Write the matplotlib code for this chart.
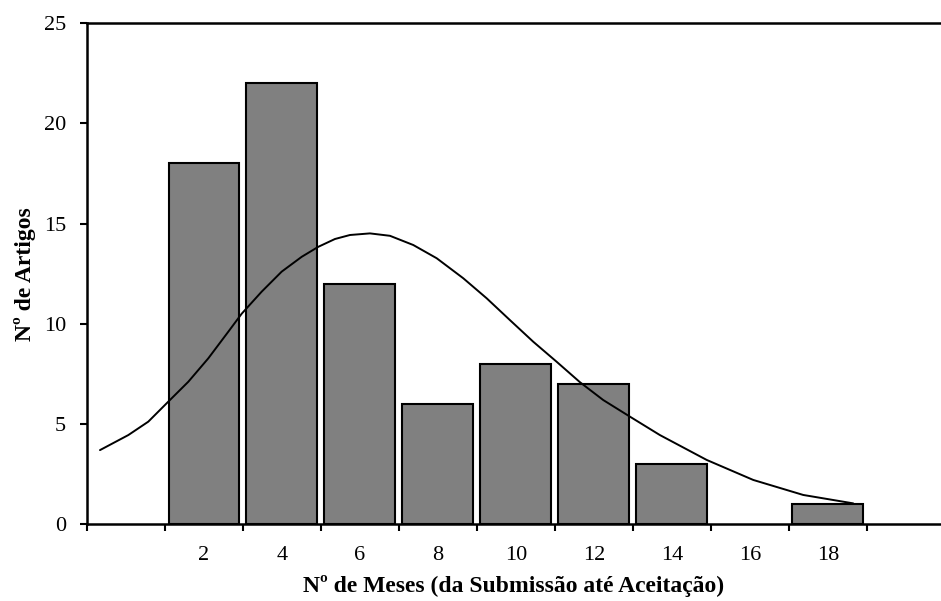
import matplotlib
matplotlib.use("Agg")
import matplotlib.pyplot as plt
import numpy as np

plt.rcParams['font.family'] = ['Liberation Serif', 'DejaVu Serif']

# histogram: months from submission to acceptance
meses = [2, 4, 6, 8, 10, 12, 14, 16, 18]
artigos = [18, 22, 12, 6, 8, 7, 3, 0, 1]

# fitted curve, points
curva_x = [-0.667, 0.059, 0.572, 1.085, 1.597, 2.110, 2.623, 2.967, 3.479,
           3.992, 4.505, 4.931, 5.359, 5.744, 6.256, 6.769, 7.367, 7.967,
           8.649, 9.249, 9.846, 10.444, 11.044, 11.641, 12.238, 12.923,
           13.692, 14.890, 16.085, 17.367, 18.649]
curva_y = [3.69, 4.44, 5.11, 6.11, 7.10, 8.27, 9.60, 10.50, 11.60,
           12.60, 13.34, 13.84, 14.23, 14.43, 14.51, 14.39, 13.93, 13.27,
           12.27, 11.27, 10.18, 9.10, 8.10, 7.08, 6.19, 5.36,
           4.44, 3.20, 2.20, 1.45, 1.03]

bordas = [-1, 1, 3, 5, 7, 9, 11, 13, 15, 17, 19]

fig = plt.figure(figsize=(9.41, 6.01), dpi=100)
ax = fig.add_axes([87/941, 1 - 524/601, 1 - 87/941, (524 - 23.3)/601])

# empty bins are not drawn
cheios = [i for i, a in enumerate(artigos) if a > 0]
ax.bar([meses[i] for i in cheios], [artigos[i] for i in cheios], width=1.82,
       color='#808080', edgecolor='black', linewidth=1.5, zorder=2)
ax.plot(curva_x, curva_y, color='black', linewidth=1.4, zorder=3,
        solid_capstyle='round', solid_joinstyle='round')

ax.set_xlim(-1, 20.9)
ax.set_ylim(0, 25)
ax.set_yticks(range(0, 26, 5))
ax.set_xticks(bordas)
ax.set_xticklabels([])
ax.set_xticks(meses, minor=True)
ax.set_xticklabels([str(m) for m in meses], minor=True)
ax.tick_params(axis='x', which='major', direction='out', length=5, width=1.5)
ax.tick_params(axis='x', which='minor', length=0, pad=16, labelsize=16)
ax.tick_params(axis='y', direction='out', length=5, width=1.5, labelsize=16, pad=10)

for s in ['left', 'bottom', 'top']:
    ax.spines[s].set_linewidth(1.8)
ax.spines['right'].set_visible(False)

ax.set_xlabel('Nº de Meses (da Submissão até Aceitação)', fontsize=17,
              fontweight='bold', labelpad=7)
ax.set_ylabel('Nº de Artigos', fontsize=17, fontweight='bold', labelpad=6)

fig.savefig('out.png', dpi=100)
